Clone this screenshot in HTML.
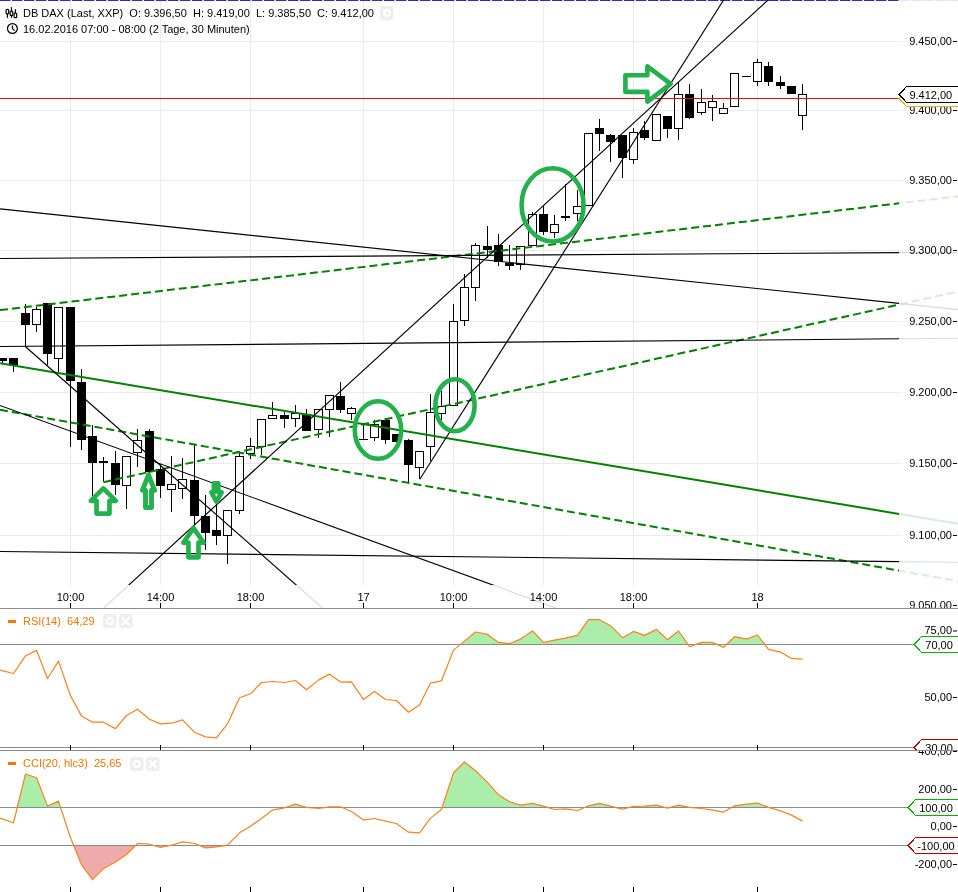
<!DOCTYPE html><html><head><meta charset="utf-8"><style>html,body{margin:0;padding:0;background:#fff;overflow:hidden}svg{display:block;will-change:transform}</style></head><body><svg width="958" height="892" viewBox="0 0 958 892" font-family="'Liberation Sans', Arial, sans-serif" font-size="11">
<defs><clipPath id="plot"><rect x="0" y="0" width="899" height="585"/></clipPath><clipPath id="outside"><path d="M0,0 H958 V608 H0 Z M0,0 V585 H899 V0 Z" clip-rule="evenodd"/></clipPath><clipPath id="mainp"><rect x="0" y="0" width="958" height="608"/></clipPath><clipPath id="rsip"><rect x="0" y="609" width="958" height="141"/></clipPath><clipPath id="ccip"><rect x="0" y="751" width="958" height="141"/></clipPath></defs>
<rect width="958" height="892" fill="#fff"/>
<rect x="0" y="41" width="899" height="1" fill="#ebebeb"/>
<rect x="899" y="41" width="9" height="1" fill="#f6f6f6"/>
<rect x="0" y="110" width="899" height="1" fill="#ebebeb"/>
<rect x="899" y="110" width="9" height="1" fill="#f6f6f6"/>
<rect x="0" y="180" width="899" height="1" fill="#ebebeb"/>
<rect x="899" y="180" width="9" height="1" fill="#f6f6f6"/>
<rect x="0" y="250" width="899" height="1" fill="#ebebeb"/>
<rect x="899" y="250" width="9" height="1" fill="#f6f6f6"/>
<rect x="0" y="321" width="899" height="1" fill="#ebebeb"/>
<rect x="899" y="321" width="9" height="1" fill="#f6f6f6"/>
<rect x="0" y="392" width="899" height="1" fill="#ebebeb"/>
<rect x="899" y="392" width="9" height="1" fill="#f6f6f6"/>
<rect x="0" y="463" width="899" height="1" fill="#ebebeb"/>
<rect x="899" y="463" width="9" height="1" fill="#f6f6f6"/>
<rect x="0" y="535" width="899" height="1" fill="#ebebeb"/>
<rect x="899" y="535" width="9" height="1" fill="#f6f6f6"/>
<rect x="70" y="0" width="1" height="585" fill="#ebebeb"/>
<rect x="160" y="0" width="1" height="585" fill="#ebebeb"/>
<rect x="250" y="0" width="1" height="585" fill="#ebebeb"/>
<rect x="363" y="0" width="1" height="585" fill="#ebebeb"/>
<rect x="453" y="0" width="1" height="585" fill="#ebebeb"/>
<rect x="543" y="0" width="1" height="585" fill="#ebebeb"/>
<rect x="633" y="0" width="1" height="585" fill="#ebebeb"/>
<rect x="757" y="0" width="1" height="585" fill="#ebebeb"/>
<line x1="0" y1="0.5" x2="958" y2="0.5" stroke="#3328cc" stroke-width="1" stroke-dasharray="10.5 1.5" clip-path="url(#plot)"/>
<line x1="0" y1="0.5" x2="958" y2="0.5" stroke="#3328cc" stroke-width="1" stroke-dasharray="10.5 1.5" opacity="0.12" clip-path="url(#outside)"/>
<g fill="#000">
<text x="23" y="17" xml:space="preserve">DB DAX (Last, XXP)  O: 9.396,50  H: 9.419,00  L: 9.385,50  C: 9.412,00</text>
<text x="23" y="33" xml:space="preserve">16.02.2016 07:00 - 08:00 (2 Tage, 30 Minuten)</text>
</g>
<g fill="none" stroke="#000" stroke-width="1.2"><rect x="6.1" y="9.3" width="2.6" height="4.6" rx="1"/><line x1="7.4" y1="13.9" x2="7.4" y2="17.8"/><rect x="10.2" y="11.1" width="2.6" height="4.6" rx="1"/><line x1="11.5" y1="7.2" x2="11.5" y2="11.1"/><line x1="11.5" y1="15.7" x2="11.5" y2="17.8"/><rect x="14.1" y="13.1" width="2.6" height="4.6" rx="1"/><line x1="15.4" y1="9.2" x2="15.4" y2="13.1"/></g>
<g fill="none" stroke="#000" stroke-width="1.2"><circle cx="12.4" cy="28.5" r="4.9"/><path d="M12.4,25.4 V28.6 L14.6,30.6"/></g>
<g clip-path="url(#plot)"><rect x="2" y="361" width="1" height="2"/>
<rect x="-2" y="358" width="9" height="3"/>
<rect x="13" y="365" width="1" height="7"/>
<rect x="9" y="358" width="9" height="7"/>
<rect x="25" y="304" width="1" height="9"/>
<rect x="25" y="325" width="1" height="21"/>
<rect x="21" y="313" width="9" height="12"/>
<rect x="36" y="307" width="1" height="2"/>
<rect x="36" y="325" width="1" height="7"/>
<rect x="32.5" y="309.5" width="8" height="15" fill="none" stroke="#000"/>
<rect x="47" y="354" width="1" height="11"/>
<rect x="43" y="303" width="9" height="51"/>
<rect x="58" y="359" width="1" height="14"/>
<rect x="54.5" y="307.5" width="8" height="51" fill="none" stroke="#000"/>
<rect x="70" y="381" width="1" height="66"/>
<rect x="66" y="307" width="9" height="74"/>
<rect x="81" y="369" width="1" height="13"/>
<rect x="81" y="440" width="1" height="10"/>
<rect x="77" y="382" width="9" height="58"/>
<rect x="92" y="425" width="1" height="11"/>
<rect x="92" y="463" width="1" height="33"/>
<rect x="88" y="436" width="9" height="27"/>
<rect x="103" y="457" width="1" height="25"/>
<rect x="99" y="461" width="9" height="2"/>
<rect x="115" y="451" width="1" height="12"/>
<rect x="115" y="485" width="1" height="10"/>
<rect x="111" y="463" width="9" height="22"/>
<rect x="126" y="486" width="1" height="23"/>
<rect x="122.5" y="456.5" width="8" height="29" fill="none" stroke="#000"/>
<rect x="137" y="429" width="1" height="11"/>
<rect x="137" y="453" width="1" height="14"/>
<rect x="133.5" y="440.5" width="8" height="12" fill="none" stroke="#000"/>
<rect x="149" y="429" width="1" height="2"/>
<rect x="149" y="472" width="1" height="8"/>
<rect x="145" y="431" width="9" height="41"/>
<rect x="160" y="464" width="1" height="5"/>
<rect x="160" y="486" width="1" height="12"/>
<rect x="156" y="469" width="9" height="17"/>
<rect x="171" y="456" width="1" height="28"/>
<rect x="171" y="490" width="1" height="22"/>
<rect x="167.5" y="484.5" width="8" height="5" fill="none" stroke="#000"/>
<rect x="182" y="458" width="1" height="21"/>
<rect x="182" y="489" width="1" height="10"/>
<rect x="178.5" y="479.5" width="8" height="9" fill="none" stroke="#000"/>
<rect x="194" y="445" width="1" height="35"/>
<rect x="194" y="516" width="1" height="9"/>
<rect x="190" y="480" width="9" height="36"/>
<rect x="205" y="495" width="1" height="21"/>
<rect x="205" y="533" width="1" height="17"/>
<rect x="201" y="516" width="9" height="17"/>
<rect x="216" y="504" width="1" height="26"/>
<rect x="216" y="536" width="1" height="9"/>
<rect x="212" y="530" width="9" height="6"/>
<rect x="227" y="536" width="1" height="28"/>
<rect x="223.5" y="510.5" width="8" height="25" fill="none" stroke="#000"/>
<rect x="239" y="452" width="1" height="4"/>
<rect x="239" y="511" width="1" height="3"/>
<rect x="235.5" y="456.5" width="8" height="54" fill="none" stroke="#000"/>
<rect x="250" y="438" width="1" height="8"/>
<rect x="250" y="454" width="1" height="5"/>
<rect x="246.5" y="446.5" width="8" height="7" fill="none" stroke="#000"/>
<rect x="261" y="447" width="1" height="8"/>
<rect x="257.5" y="419.5" width="8" height="27" fill="none" stroke="#000"/>
<rect x="272" y="402" width="1" height="13"/>
<rect x="268.5" y="415.5" width="8" height="3" fill="none" stroke="#000"/>
<rect x="284" y="412" width="1" height="3"/>
<rect x="284" y="419" width="1" height="9"/>
<rect x="280" y="415" width="9" height="4"/>
<rect x="295" y="405" width="1" height="8"/>
<rect x="295" y="419" width="1" height="8"/>
<rect x="291.5" y="413.5" width="8" height="5" fill="none" stroke="#000"/>
<rect x="306" y="409" width="1" height="5"/>
<rect x="302" y="414" width="9" height="17"/>
<rect x="318" y="430" width="1" height="8"/>
<rect x="314.5" y="409.5" width="8" height="20" fill="none" stroke="#000"/>
<rect x="329" y="410" width="1" height="27"/>
<rect x="325.5" y="395.5" width="8" height="14" fill="none" stroke="#000"/>
<rect x="340" y="382" width="1" height="14"/>
<rect x="340" y="410" width="1" height="3"/>
<rect x="336" y="396" width="9" height="14"/>
<rect x="351" y="407" width="1" height="1"/>
<rect x="351" y="414" width="1" height="6"/>
<rect x="347.5" y="408.5" width="8" height="5" fill="none" stroke="#000"/>
<rect x="363" y="424" width="1" height="16"/>
<rect x="359" y="439" width="9" height="1"/>
<rect x="374" y="420" width="1" height="4"/>
<rect x="374" y="438" width="1" height="3"/>
<rect x="370.5" y="424.5" width="8" height="13" fill="none" stroke="#000"/>
<rect x="385" y="418" width="1" height="2"/>
<rect x="385" y="440" width="1" height="4"/>
<rect x="381" y="420" width="9" height="20"/>
<rect x="392" y="434" width="9" height="8"/>
<rect x="408" y="439" width="1" height="1"/>
<rect x="408" y="465" width="1" height="17"/>
<rect x="404" y="440" width="9" height="25"/>
<rect x="419" y="468" width="1" height="11"/>
<rect x="415.5" y="451.5" width="8" height="16" fill="none" stroke="#000"/>
<rect x="430" y="394" width="1" height="18"/>
<rect x="430" y="447" width="1" height="14"/>
<rect x="426.5" y="412.5" width="8" height="34" fill="none" stroke="#000"/>
<rect x="441" y="391" width="1" height="15"/>
<rect x="441" y="414" width="1" height="6"/>
<rect x="437.5" y="406.5" width="8" height="7" fill="none" stroke="#000"/>
<rect x="453" y="304" width="1" height="17"/>
<rect x="449.5" y="321.5" width="8" height="84" fill="none" stroke="#000"/>
<rect x="464" y="274" width="1" height="13"/>
<rect x="464" y="321" width="1" height="5"/>
<rect x="460.5" y="287.5" width="8" height="33" fill="none" stroke="#000"/>
<rect x="475" y="243" width="1" height="2"/>
<rect x="475" y="288" width="1" height="13"/>
<rect x="471.5" y="245.5" width="8" height="42" fill="none" stroke="#000"/>
<rect x="487" y="226" width="1" height="20"/>
<rect x="487" y="250" width="1" height="8"/>
<rect x="483" y="246" width="9" height="4"/>
<rect x="498" y="234" width="1" height="11"/>
<rect x="498" y="262" width="1" height="4"/>
<rect x="494" y="245" width="9" height="17"/>
<rect x="509" y="245" width="1" height="18"/>
<rect x="509" y="266" width="1" height="4"/>
<rect x="505" y="263" width="9" height="3"/>
<rect x="520" y="265" width="1" height="5"/>
<rect x="516.5" y="246.5" width="8" height="18" fill="none" stroke="#000"/>
<rect x="532" y="212" width="1" height="2"/>
<rect x="528.5" y="214.5" width="8" height="31" fill="none" stroke="#000"/>
<rect x="543" y="206" width="1" height="8"/>
<rect x="543" y="232" width="1" height="3"/>
<rect x="539" y="214" width="9" height="18"/>
<rect x="554" y="215" width="1" height="9"/>
<rect x="554" y="233" width="1" height="5"/>
<rect x="550.5" y="224.5" width="8" height="8" fill="none" stroke="#000"/>
<rect x="565" y="184" width="1" height="37"/>
<rect x="561" y="216" width="9" height="2"/>
<rect x="577" y="190" width="1" height="16"/>
<rect x="577" y="214" width="1" height="7"/>
<rect x="573.5" y="206.5" width="8" height="7" fill="none" stroke="#000"/>
<rect x="584.5" y="133.5" width="8" height="72" fill="none" stroke="#000"/>
<rect x="599" y="119" width="1" height="9"/>
<rect x="599" y="134" width="1" height="17"/>
<rect x="595" y="128" width="9" height="6"/>
<rect x="610" y="134" width="1" height="1"/>
<rect x="610" y="142" width="1" height="20"/>
<rect x="606" y="135" width="9" height="7"/>
<rect x="622" y="158" width="1" height="20"/>
<rect x="618" y="135" width="9" height="23"/>
<rect x="633" y="128" width="1" height="4"/>
<rect x="633" y="160" width="1" height="4"/>
<rect x="629.5" y="132.5" width="8" height="27" fill="none" stroke="#000"/>
<rect x="644" y="121" width="1" height="9"/>
<rect x="644" y="138" width="1" height="2"/>
<rect x="640" y="130" width="9" height="8"/>
<rect x="652.5" y="114.5" width="8" height="26" fill="none" stroke="#000"/>
<rect x="667" y="129" width="1" height="9"/>
<rect x="663" y="116" width="9" height="13"/>
<rect x="678" y="82" width="1" height="12"/>
<rect x="678" y="129" width="1" height="11"/>
<rect x="674.5" y="94.5" width="8" height="34" fill="none" stroke="#000"/>
<rect x="689" y="84" width="1" height="10"/>
<rect x="689" y="118" width="1" height="1"/>
<rect x="685" y="94" width="9" height="24"/>
<rect x="701" y="89" width="1" height="13"/>
<rect x="701" y="113" width="1" height="2"/>
<rect x="697.5" y="102.5" width="8" height="10" fill="none" stroke="#000"/>
<rect x="712" y="95" width="1" height="6"/>
<rect x="712" y="108" width="1" height="13"/>
<rect x="708.5" y="101.5" width="8" height="6" fill="none" stroke="#000"/>
<rect x="723" y="103" width="1" height="5"/>
<rect x="719.5" y="108.5" width="8" height="5" fill="none" stroke="#000"/>
<rect x="730.5" y="73.5" width="8" height="33" fill="none" stroke="#000"/>
<rect x="746" y="76" width="1" height="1"/>
<rect x="742" y="76" width="9" height="1"/>
<rect x="757" y="59" width="1" height="3"/>
<rect x="757" y="82" width="1" height="4"/>
<rect x="753.5" y="62.5" width="8" height="19" fill="none" stroke="#000"/>
<rect x="768" y="62" width="1" height="4"/>
<rect x="768" y="82" width="1" height="4"/>
<rect x="764" y="66" width="9" height="16"/>
<rect x="780" y="76" width="1" height="6"/>
<rect x="780" y="86" width="1" height="3"/>
<rect x="776" y="82" width="9" height="4"/>
<rect x="787" y="86" width="9" height="8"/>
<rect x="802" y="84" width="1" height="10"/>
<rect x="802" y="116" width="1" height="14"/>
<rect x="798.5" y="94.5" width="8" height="21" fill="none" stroke="#000"/></g>
<rect x="0" y="98" width="899" height="1" fill="#f00"/>
<g clip-path="url(#plot)"><line x1="0.0" y1="363.3" x2="958.0" y2="523.78" stroke="#008000" stroke-width="2"/>
<line x1="0.0" y1="310.1" x2="958.0" y2="196.29" stroke="#008000" stroke-width="2" stroke-dasharray="8 4"/>
<line x1="0.0" y1="409.8" x2="958.0" y2="581.15" stroke="#008000" stroke-width="2" stroke-dasharray="8 4"/>
<line x1="103.5" y1="482.2" x2="958.0" y2="291.43" stroke="#008000" stroke-width="2" stroke-dasharray="8 4"/>
<line x1="0.0" y1="208.9" x2="958.0" y2="309.6" stroke="#000" stroke-width="1.15"/>
<line x1="0.0" y1="258.5" x2="958.0" y2="252.21" stroke="#000" stroke-width="1.15"/>
<line x1="0.0" y1="346.5" x2="958.0" y2="338.29" stroke="#000" stroke-width="1.15"/>
<line x1="25.3" y1="346.5" x2="322.33" y2="608.0" stroke="#000" stroke-width="1.15"/>
<line x1="0.0" y1="405.5" x2="555.98" y2="608.0" stroke="#000" stroke-width="1.15"/>
<line x1="0.0" y1="551.5" x2="958.0" y2="562.26" stroke="#000" stroke-width="1.15"/>
<line x1="103.74" y1="608.0" x2="768.0" y2="0.0" stroke="#000" stroke-width="1.15"/>
<line x1="419.8" y1="479.2" x2="723.6" y2="0.0" stroke="#000" stroke-width="1.15"/></g>
<g clip-path="url(#outside)" opacity="0.15"><line x1="0.0" y1="363.3" x2="958.0" y2="523.78" stroke="#008000" stroke-width="2"/>
<line x1="0.0" y1="310.1" x2="958.0" y2="196.29" stroke="#008000" stroke-width="2" stroke-dasharray="8 4"/>
<line x1="0.0" y1="409.8" x2="958.0" y2="581.15" stroke="#008000" stroke-width="2" stroke-dasharray="8 4"/>
<line x1="103.5" y1="482.2" x2="958.0" y2="291.43" stroke="#008000" stroke-width="2" stroke-dasharray="8 4"/>
<line x1="0.0" y1="208.9" x2="958.0" y2="309.6" stroke="#000" stroke-width="1.15"/>
<line x1="0.0" y1="258.5" x2="958.0" y2="252.21" stroke="#000" stroke-width="1.15"/>
<line x1="0.0" y1="346.5" x2="958.0" y2="338.29" stroke="#000" stroke-width="1.15"/>
<line x1="25.3" y1="346.5" x2="322.33" y2="608.0" stroke="#000" stroke-width="1.15"/>
<line x1="0.0" y1="405.5" x2="555.98" y2="608.0" stroke="#000" stroke-width="1.15"/>
<line x1="0.0" y1="551.5" x2="958.0" y2="562.26" stroke="#000" stroke-width="1.15"/>
<line x1="103.74" y1="608.0" x2="768.0" y2="0.0" stroke="#000" stroke-width="1.15"/>
<line x1="419.8" y1="479.2" x2="723.6" y2="0.0" stroke="#000" stroke-width="1.15"/></g>
<g clip-path="url(#plot)"><ellipse cx="378" cy="430" rx="23.2" ry="28.8" fill="none" stroke="#23b04d" stroke-width="4.6"/>
<ellipse cx="455" cy="405.3" rx="19.6" ry="26" fill="none" stroke="#23b04d" stroke-width="4.6"/>
<ellipse cx="552.6" cy="204.9" rx="31" ry="36.6" fill="none" stroke="#23b04d" stroke-width="4.6"/><path d="M103.3,488.4 L115.8,500.85 L109.45,500.85 L109.45,513.55 L96.55,513.55 L96.55,500.85 L90.8,500.85 Z" fill="none" stroke="#23b04d" stroke-width="4.7" stroke-linejoin="round"/>
<path d="M148.5,474.8 L154.6,490.3 L151.5,490.3 L151.5,507.5 L145.5,507.5 L145.5,490.3 L142.4,490.3 Z" fill="none" stroke="#23b04d" stroke-width="4.9" stroke-linejoin="round"/>
<path d="M213.9,483.35 L218.3,483.35 L218.3,492.3 L221.6,492.3 L216.5,501.7 L211.4,492.3 L213.9,492.3 Z" fill="none" stroke="#23b04d" stroke-width="4.7" stroke-linejoin="round"/>
<path d="M193.5,528.1 L203.6,542.7 L198.5,542.7 L198.5,557.35 L188.45,557.35 L188.45,542.7 L183.4,542.7 Z" fill="none" stroke="#23b04d" stroke-width="4.7" stroke-linejoin="round"/>
<path d="M625.4,75.3 L647.4,75.3 L647.4,66.3 L670.7,83.8 L647.4,101.6 L647.4,91.9 L625.4,91.9 Z" fill="none" stroke="#23b04d" stroke-width="4.6" stroke-linejoin="round"/></g>
<g clip-path="url(#mainp)" fill="#000"><text x="952" y="44.6" text-anchor="end">9.450,00</text><rect x="953" y="41" width="4" height="1"/><text x="952" y="113.6" text-anchor="end">9.400,00</text><rect x="953" y="110" width="4" height="1"/><text x="952" y="183.6" text-anchor="end">9.350,00</text><rect x="953" y="180" width="4" height="1"/><text x="952" y="253.6" text-anchor="end">9.300,00</text><rect x="953" y="250" width="4" height="1"/><text x="952" y="324.6" text-anchor="end">9.250,00</text><rect x="953" y="321" width="4" height="1"/><text x="952" y="395.6" text-anchor="end">9.200,00</text><rect x="953" y="392" width="4" height="1"/><text x="952" y="466.6" text-anchor="end">9.150,00</text><rect x="953" y="463" width="4" height="1"/><text x="952" y="538.6" text-anchor="end">9.100,00</text><rect x="953" y="535" width="4" height="1"/><text x="952" y="608.6" text-anchor="end">9.050,00</text><rect x="953" y="605" width="4" height="1"/></g>
<path d="M898.5,98.5 L906.5,90.5 L966,90.5 L966,106.5 L906.5,106.5 Z" fill="#fff" stroke="#e6b422" stroke-width="1" shape-rendering="crispEdges"/><path d="M906.5,90.5 L899.5,98.5 L906.5,106.5" fill="none" stroke="#e6b422" stroke-width="1" shape-rendering="crispEdges"/>
<path d="M898.5,94.5 L906.5,86.5 L966,86.5 L966,102.5 L906.5,102.5 Z" fill="rgba(255,255,255,0.94)" stroke="#000" stroke-width="1" shape-rendering="crispEdges"/><path d="M906.5,86.5 L899.5,94.5 L906.5,102.5" fill="none" stroke="#000" stroke-width="1" shape-rendering="crispEdges"/><text x="930.8" y="98.5" text-anchor="middle" fill="#000">9.412,00</text>
<rect x="0" y="608" width="958" height="1" fill="#8a8a8a"/>
<rect x="70" y="603" width="1" height="5" fill="#000"/>
<text x="70.5" y="601" text-anchor="middle" fill="#000">10:00</text>
<rect x="160" y="603" width="1" height="5" fill="#000"/>
<text x="160.5" y="601" text-anchor="middle" fill="#000">14:00</text>
<rect x="250" y="603" width="1" height="5" fill="#000"/>
<text x="250.5" y="601" text-anchor="middle" fill="#000">18:00</text>
<rect x="363" y="603" width="1" height="5" fill="#000"/>
<text x="363.5" y="601" text-anchor="middle" fill="#000">17</text>
<rect x="453" y="603" width="1" height="5" fill="#000"/>
<text x="453.5" y="601" text-anchor="middle" fill="#000">10:00</text>
<rect x="543" y="603" width="1" height="5" fill="#000"/>
<text x="543.5" y="601" text-anchor="middle" fill="#000">14:00</text>
<rect x="633" y="603" width="1" height="5" fill="#000"/>
<text x="633.5" y="601" text-anchor="middle" fill="#000">18:00</text>
<rect x="757" y="603" width="1" height="5" fill="#000"/>
<text x="757.5" y="601" text-anchor="middle" fill="#000">18</text>
<g clip-path="url(#rsip)"><polygon points="460.3,644.5 464.5,641.1 475.5,632.0 487.5,634.4 498.5,642.4 509.5,643.7 520.5,639.1 532.5,631.0 543.5,642.4 554.5,640.1 565.5,638.1 577.5,635.4 588.5,619.7 599.5,619.7 610.5,625.7 622.5,637.7 633.5,631.4 644.5,635.4 656.5,629.4 667.5,639.7 678.5,631.0 688.0,644.5" fill="#abeeaa"/>
<polygon points="695.6,644.5 701.5,642.4 712.5,642.4 717.1,644.5" fill="#abeeaa"/>
<polygon points="726.5,644.5 734.5,636.7 746.5,639.1 757.5,635.0 764.8,644.5" fill="#abeeaa"/><rect x="0" y="644" width="913" height="1" fill="#8a8a8a"/><rect x="0" y="747" width="913" height="1" fill="#8a8a8a"/><polyline points="0,670.1 13.5,673.5 25.5,655.8 36.5,650.4 47.5,678.5 58.5,661.1 70.5,695.8 81.5,715.9 92.5,722.2 103.5,722.2 115.5,728.6 126.5,715.5 137.5,709.2 149.5,719.2 160.5,723.9 171.5,723.2 182.5,719.9 194.5,732.2 205.5,736.9 216.5,737.9 227.5,723.9 239.5,697.8 250.5,693.8 261.5,682.5 272.5,681.5 284.5,682.5 295.5,680.5 306.5,689.8 318.5,680.1 329.5,674.1 340.5,682.1 351.5,681.8 363.5,699.5 374.5,691.5 385.5,699.5 396.5,700.5 408.5,712.2 419.5,704.9 430.5,683.1 441.5,680.8 453.5,650.1 464.5,641.1 475.5,632 487.5,634.4 498.5,642.4 509.5,643.7 520.5,639.1 532.5,631 543.5,642.4 554.5,640.1 565.5,638.1 577.5,635.4 588.5,619.7 599.5,619.7 610.5,625.7 622.5,637.7 633.5,631.4 644.5,635.4 656.5,629.4 667.5,639.7 678.5,631 689.5,646.7 701.5,642.4 712.5,642.4 723.5,647.4 734.5,636.7 746.5,639.1 757.5,635 768.5,649.4 780.5,652.1 791.5,658.4 802.5,659.1" fill="none" stroke="#ff8020" stroke-width="1.2" stroke-linejoin="round"/><rect x="70" y="745" width="1" height="5" fill="#000"/><rect x="160" y="745" width="1" height="5" fill="#000"/><rect x="250" y="745" width="1" height="5" fill="#000"/><rect x="363" y="745" width="1" height="5" fill="#000"/><rect x="453" y="745" width="1" height="5" fill="#000"/><rect x="543" y="745" width="1" height="5" fill="#000"/><rect x="633" y="745" width="1" height="5" fill="#000"/><rect x="757" y="745" width="1" height="5" fill="#000"/><text x="952" y="634.1" text-anchor="end" fill="#000">75,00</text><rect x="953" y="630.5" width="4" height="1" fill="#000"/><text x="952" y="700.6" text-anchor="end" fill="#000">50,00</text><rect x="953" y="697" width="4" height="1" fill="#000"/><path d="M913.5,644.5 L921.5,636.5 L966,636.5 L966,652.5 L921.5,652.5 Z" fill="#fff" stroke="#00b400" stroke-width="1" shape-rendering="crispEdges"/><path d="M921.5,636.5 L914.5,644.5 L921.5,652.5" fill="none" stroke="#00b400" stroke-width="1" shape-rendering="crispEdges"/><text x="939.1" y="648.5" text-anchor="middle" fill="#000">70,00</text><path d="M913.5,747.5 L921.5,739.5 L966,739.5 L966,755.5 L921.5,755.5 Z" fill="#fff" stroke="#b00000" stroke-width="1" shape-rendering="crispEdges"/><path d="M921.5,739.5 L914.5,747.5 L921.5,755.5" fill="none" stroke="#b00000" stroke-width="1" shape-rendering="crispEdges"/><text x="939.1" y="751.5" text-anchor="middle" fill="#000">30,00</text></g>
<g clip-path="url(#ccip)"><polygon points="17.3,807.5 25.5,774.0 36.5,777.7 47.5,806.1 58.5,801.1 60.6,807.5" fill="#abeeaa"/>
<polygon points="285.4,807.5 295.5,804.1 306.5,807.4 307.6,807.5" fill="#abeeaa"/>
<polygon points="325.0,807.5 329.5,806.8 340.5,806.8 342.1,807.5" fill="#abeeaa"/>
<polygon points="442.2,807.5 453.5,772.7 464.5,762.0 475.5,770.7 487.5,782.4 498.5,794.8 509.5,801.8 520.5,805.1 532.5,803.4 543.5,806.1 548.0,807.5" fill="#abeeaa"/>
<polygon points="584.5,807.5 588.5,805.8 599.5,803.4 610.5,806.1 616.1,807.5" fill="#abeeaa"/>
<polygon points="629.0,807.5 633.5,806.4 644.5,806.1 656.5,805.1 665.3,807.5" fill="#abeeaa"/>
<polygon points="669.7,807.5 678.5,805.1 689.5,807.4 690.6,807.5" fill="#abeeaa"/>
<polygon points="731.5,807.5 734.5,805.8 746.5,804.1 757.5,803.1 768.5,807.4 768.9,807.5" fill="#abeeaa"/><polygon points="73.7,845.5 81.5,864.6 92.5,879.6 103.5,868.6 115.5,861.9 126.5,854.5 135.5,845.5" fill="#efaaab"/>
<polygon points="153.8,845.5 160.5,847.5 170.1,845.5" fill="#efaaab"/>
<polygon points="199.5,845.5 205.5,847.9 216.5,846.9 225.6,845.5" fill="#efaaab"/><rect x="0" y="807" width="907" height="1" fill="#8a8a8a"/><rect x="0" y="845" width="907" height="1" fill="#8a8a8a"/><polyline points="0,818.1 13.5,822.8 25.5,774 36.5,777.7 47.5,806.1 58.5,801.1 70.5,837.8 81.5,864.6 92.5,879.6 103.5,868.6 115.5,861.9 126.5,854.5 137.5,843.5 149.5,844.2 160.5,847.5 171.5,845.2 182.5,841.9 194.5,843.5 205.5,847.9 216.5,846.9 227.5,845.2 239.5,832.8 250.5,826.2 261.5,818.5 272.5,810.1 284.5,807.8 295.5,804.1 306.5,807.4 318.5,808.5 329.5,806.8 340.5,806.8 351.5,811.5 363.5,820.1 374.5,818.5 385.5,821.1 396.5,823.5 408.5,832.2 419.5,832.8 430.5,818.1 441.5,809.5 453.5,772.7 464.5,762 475.5,770.7 487.5,782.4 498.5,794.8 509.5,801.8 520.5,805.1 532.5,803.4 543.5,806.1 554.5,809.5 565.5,808.8 577.5,810.5 588.5,805.8 599.5,803.4 610.5,806.1 622.5,809.1 633.5,806.4 644.5,806.1 656.5,805.1 667.5,808.1 678.5,805.1 689.5,807.4 701.5,808.5 712.5,810.1 723.5,812.1 734.5,805.8 746.5,804.1 757.5,803.1 768.5,807.4 780.5,810.8 791.5,815.1 802.5,821.1" fill="none" stroke="#ff8020" stroke-width="1.2" stroke-linejoin="round"/><rect x="70" y="887" width="1" height="5" fill="#000"/><rect x="160" y="887" width="1" height="5" fill="#000"/><rect x="250" y="887" width="1" height="5" fill="#000"/><rect x="363" y="887" width="1" height="5" fill="#000"/><rect x="453" y="887" width="1" height="5" fill="#000"/><rect x="543" y="887" width="1" height="5" fill="#000"/><rect x="633" y="887" width="1" height="5" fill="#000"/><rect x="757" y="887" width="1" height="5" fill="#000"/><text x="952" y="754.6" text-anchor="end" fill="#000">400,00</text><rect x="953" y="751" width="4" height="1" fill="#000"/><text x="952" y="792.6" text-anchor="end" fill="#000">200,00</text><rect x="953" y="789" width="4" height="1" fill="#000"/><text x="952" y="829.6" text-anchor="end" fill="#000">0,00</text><rect x="953" y="826" width="4" height="1" fill="#000"/><text x="952" y="867.6" text-anchor="end" fill="#000">-200,00</text><rect x="953" y="864" width="4" height="1" fill="#000"/><path d="M907.5,807.5 L915.5,799.5 L966,799.5 L966,815.5 L915.5,815.5 Z" fill="#fff" stroke="#00b400" stroke-width="1" shape-rendering="crispEdges"/><path d="M915.5,799.5 L908.5,807.5 L915.5,815.5" fill="none" stroke="#00b400" stroke-width="1" shape-rendering="crispEdges"/><text x="936" y="811.5" text-anchor="middle" fill="#000">100,00</text><path d="M907.5,845.5 L915.5,837.5 L966,837.5 L966,853.5 L915.5,853.5 Z" fill="#fff" stroke="#b00000" stroke-width="1" shape-rendering="crispEdges"/><path d="M915.5,837.5 L908.5,845.5 L915.5,853.5" fill="none" stroke="#b00000" stroke-width="1" shape-rendering="crispEdges"/><text x="936" y="849.5" text-anchor="middle" fill="#000">-100,00</text></g>
<rect x="0" y="750" width="958" height="1" fill="#8a8a8a"/>
<rect x="8" y="620" width="8" height="3" fill="#ff7300"/>
<text x="23" y="625" fill="#ff7300" xml:space="preserve">RSI(14)  64,29</text>
<rect x="8" y="762" width="8" height="3" fill="#ff7300"/>
<text x="23" y="767" fill="#ff7300" xml:space="preserve">CCI(20, hlc3)  25,65</text>
<rect x="103" y="614" width="13.5" height="14" rx="3" fill="#eeeeee"/>
<circle cx="109.9" cy="621" r="3" fill="none" stroke="#fff" stroke-width="2"/>
<rect x="119" y="614" width="13.5" height="14" rx="3" fill="#eeeeee"/>
<path d="M122,617.3 L129.7,625 M129.7,617.3 L122,625" stroke="#fff" stroke-width="2"/>
<rect x="130" y="757" width="13.5" height="14" rx="3" fill="#eeeeee"/>
<circle cx="136.9" cy="764" r="3" fill="none" stroke="#fff" stroke-width="2"/>
<rect x="146" y="757" width="13.5" height="14" rx="3" fill="#eeeeee"/>
<path d="M149,760.3 L156.7,768 M156.7,760.3 L149,768" stroke="#fff" stroke-width="2"/>
<rect x="380" y="6" width="13.5" height="14" rx="3" fill="#eeeeee"/>
<circle cx="386.9" cy="13" r="3" fill="none" stroke="#fff" stroke-width="2"/>
</svg></body></html>
